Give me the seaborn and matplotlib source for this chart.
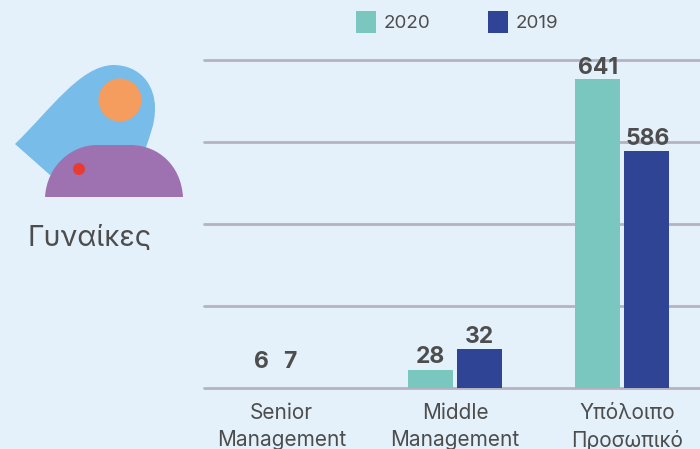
import matplotlib
matplotlib.use("Agg")
import matplotlib.pyplot as plt
from matplotlib.path import Path
from matplotlib.patches import PathPatch, Circle
import pandas as pd
import seaborn as sns

categories = ["Senior\nManagement", "Middle\nManagement", "Υπόλοιπο\nΠροσωπικό"]
years = ["2020", "2019"]
# printed values
labels_2020 = [6, 28, 641]
labels_2019 = [7, 32, 586]
# bar heights read off against the gridlines (not proportional to the printed values)
heights_2020 = [0, 22, 377]
heights_2019 = [0, 48, 289]
grid_ticks = [0, 100, 200, 300, 400]

BG = "#E4F1FB"
TEXT = "#4D4D4D"
W, H = 700, 449

sns.set_theme(style="white")
plt.rcParams["font.family"] = ["Inter", "DejaVu Sans"]

df = pd.DataFrame({
    "cat": categories * 2,
    "year": [years[0]] * 3 + [years[1]] * 3,
    "h": heights_2020 + heights_2019,
})

fig = plt.figure(figsize=(7, 4.49), dpi=100, facecolor=BG)

# icon on the left, in pixel coordinates
deco = fig.add_axes([0, 0, 1, 1])
deco.set_xlim(0, W)
deco.set_ylim(H, 0)
deco.axis("off")
drop = Path(
    [(15, 144), (50, 110), (80, 66), (113, 65), (140, 65), (155, 85), (155, 108),
     (155, 125), (150, 135), (145, 150), (100, 170), (50, 175), (50, 175), (15, 144)],
    [Path.MOVETO, Path.CURVE4, Path.CURVE4, Path.CURVE4, Path.CURVE4, Path.CURVE4, Path.CURVE4,
     Path.CURVE4, Path.CURVE4, Path.CURVE4, Path.LINETO, Path.LINETO, Path.LINETO, Path.CLOSEPOLY],
)
deco.add_patch(PathPatch(drop, fc="#78BCE9", ec="none"))
deco.add_patch(Circle((120, 100), 21.5, fc="#F59C5F", ec="none"))
dome = Path(
    [(45, 197), (47, 165), (72, 145), (97, 145), (130, 145), (158, 145), (181, 165), (183, 197), (45, 197)],
    [Path.MOVETO, Path.CURVE4, Path.CURVE4, Path.CURVE4, Path.LINETO,
     Path.CURVE4, Path.CURVE4, Path.CURVE4, Path.CLOSEPOLY],
)
deco.add_patch(PathPatch(dome, fc="#9E72B0", ec="none"))
deco.add_patch(Circle((79, 169), 6, fc="#EA3B33", ec="none"))
deco.text(90, 239, "Γυναίκες", fontsize=20.6, color=TEXT, ha="center", va="center")

# bars
ax = fig.add_axes([204 / W, 1 - 388 / H, 496 / W, 328 / H])
ax.patch.set_alpha(0)
sns.barplot(data=df, x="cat", y="h", hue="year", hue_order=years,
            palette=["#7AC7C0", "#2F4494"], width=0.585, gap=0.07,
            saturation=1, linewidth=0, edgecolor="none", ax=ax)
ax.set_xlim(-0.503, 2.467)
ax.set_ylim(0, 400)
ax.set_yticks(grid_ticks)
ax.set_yticklabels([])
ax.set_xlabel("")
ax.set_ylabel("")
ax.set_xticks([-0.04, 1.0, 2.03])
ax.set_xticklabels(categories, fontsize=15, color=TEXT, linespacing=1.42)
ax.tick_params(axis="both", length=0, pad=11)
ax.grid(axis="y", color="#B5B2C4", lw=2, clip_on=False)
ax.set_axisbelow(True)
sns.despine(ax=ax, left=True, bottom=True, top=True, right=True)

# printed values
label_dx = [[-2, 0, 0], [-23, 0, 1]]
label_dy = [[15, 2, 0], [15, 1, 1]]
for i, (cont, labs) in enumerate(zip(ax.containers, [labels_2020, labels_2019])):
    for j, (bar, lab) in enumerate(zip(cont, labs)):
        ax.annotate(str(lab), (bar.get_x() + bar.get_width() / 2, bar.get_height()),
                    xytext=(label_dx[i][j] * 0.72, label_dy[i][j] * 0.72), textcoords="offset points",
                    ha="center", va="bottom", fontsize=16.5, fontweight="bold", color=TEXT)

sns.move_legend(ax, loc="center left", bbox_to_anchor=(152 / 496, 366 / 328 + 0.0),
                ncol=2, frameon=False, title=None, fontsize=13.5, handlelength=1.05, handleheight=1.4,
                columnspacing=3.07, handletextpad=0.42, labelcolor=TEXT, borderpad=0, borderaxespad=0)

fig.savefig("out.png", dpi=100, facecolor=BG)
